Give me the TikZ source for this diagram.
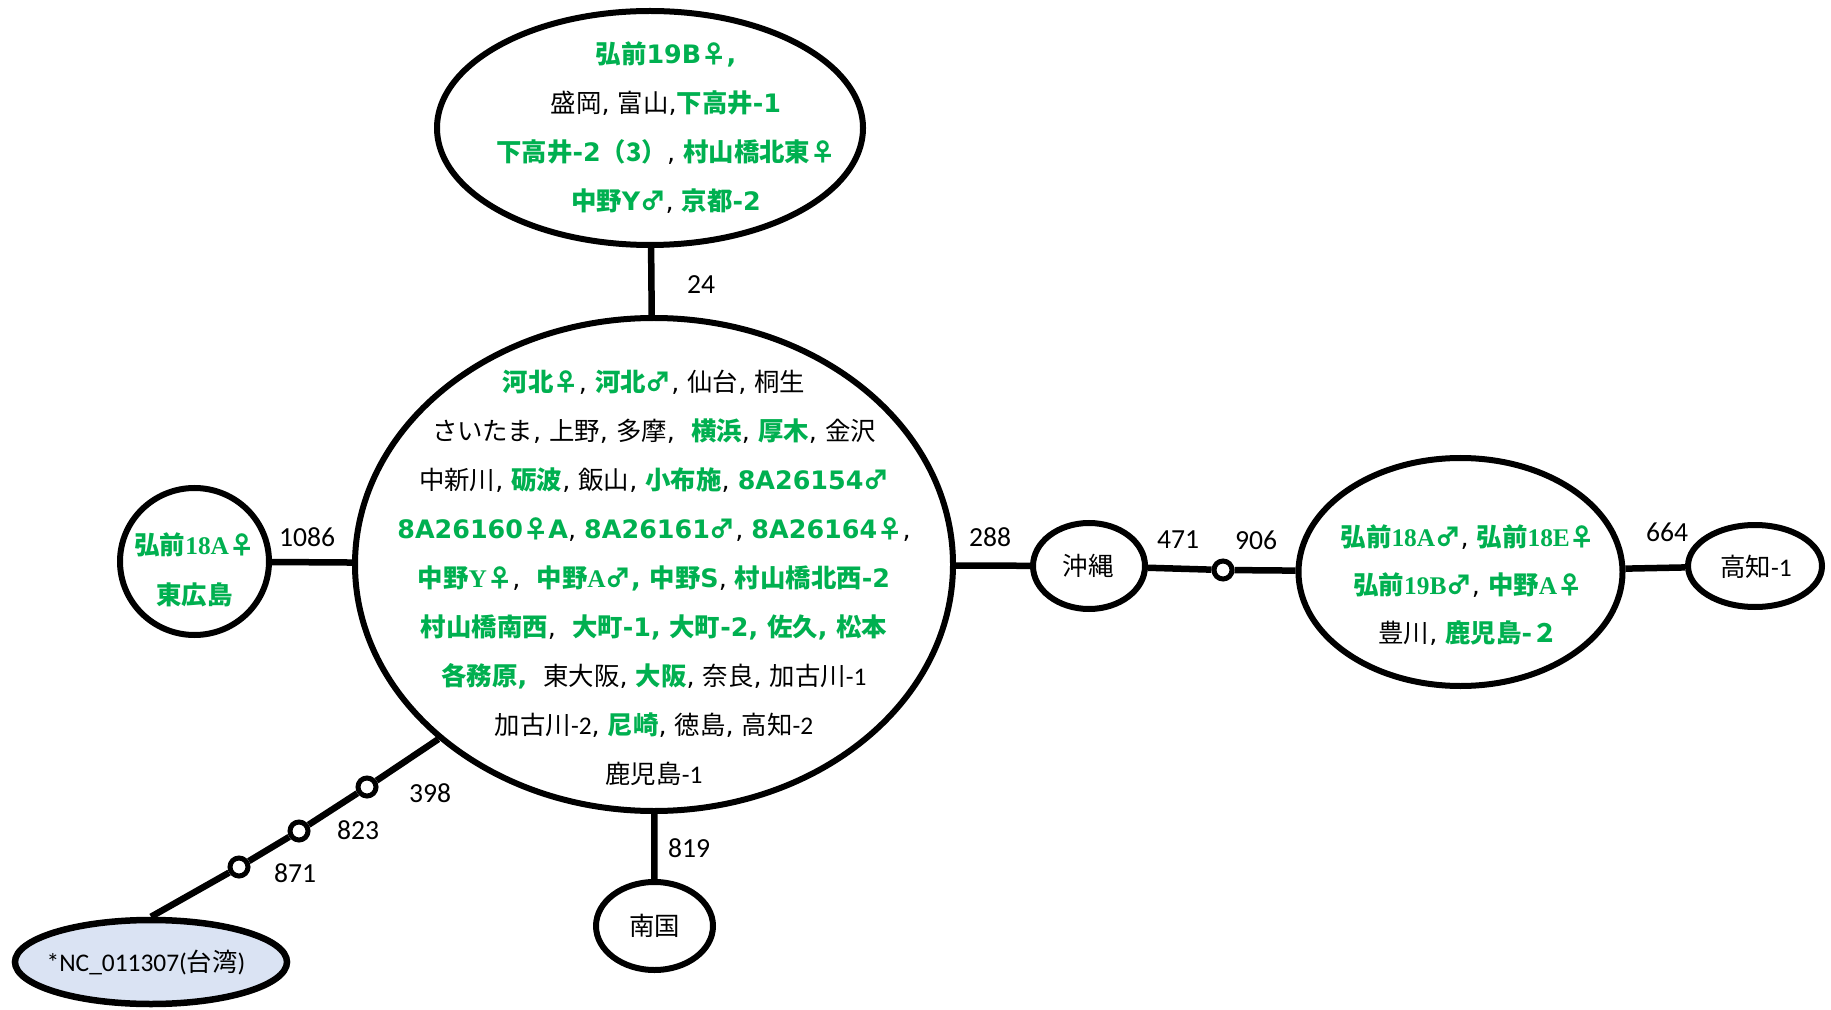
\documentclass[tikz,border=0pt]{standalone}
\usepackage{fontspec}
\usetikzlibrary{shapes.geometric}
\newfontfamily\fjp{Noto Sans CJK JP}
\newfontfamily\fvd{DejaVu Sans}
\newfontfamily\fsr{Liberation Serif}
\newfontfamily\fcl{Carlito}
\definecolor{grn}{HTML}{00B050}
\definecolor{twfill}{HTML}{DAE3F3}
\newcommand\gj[1]{{\color{grn}\fjp\bfseries #1}}
\newcommand\gv[1]{{\color{grn}\fvd\bfseries #1}}
\newcommand\gs[1]{{\color{grn}\fsr\bfseries #1}}
\newcommand\bj[1]{{\fjp #1}}
\newcommand\bv[1]{{\fvd #1}}
\newcommand\bc[1]{{\fcl #1}}
\tikzset{
  bord/.style={draw=black, line width=3pt, fill=white, ellipse, inner sep=0pt},
  mut/.style={circle, draw=black, line width=2.5pt, fill=white, minimum size=9pt, inner sep=0pt},
  conn/.style={line width=3.25pt},
  txt/.style={align=center, font=\fontsize{12.7}{24.5}\selectfont, inner sep=0pt},
  lab/.style={font=\fcl\fontsize{13.8}{16}\selectfont, inner sep=0pt},
}
\begin{document}
\begin{tikzpicture}[x=0.5pt,y=-0.5pt]
\useasboundingbox (0,0) rectangle (1831,1010);
% shapes
\node[bord, minimum width=213pt, minimum height=117pt] (top) at (650,128) {};
\node[bord, minimum width=299pt, minimum height=246.5pt] (c) at (654,564.5) {};
\node[bord, minimum width=74.5pt, minimum height=73.5pt] (lc) at (194.5,561.5) {};
\node[bord, minimum width=56pt, minimum height=43pt] (oki) at (1089,566) {};
\node[bord, minimum width=162pt, minimum height=114pt] (re) at (1460.5,572) {};
\node[bord, minimum width=67pt, minimum height=41pt] (kochi) at (1755,566) {};
\node[bord, minimum width=58.5pt, minimum height=44pt] (nan) at (654.5,926) {};
\node[bord, fill=twfill, line width=3.25pt, minimum width=136pt, minimum height=42pt] (tw) at (151,962) {};
\node[mut] (m1) at (367,787) {};
\node[mut] (m2) at (299,831) {};
\node[mut] (m3) at (239,867) {};
\node[mut] (m4) at (1223,570) {};
% connectors
\draw[conn] (top) -- (c);
\draw[conn] (lc) -- (c);
\draw[conn] (c) -- (oki);
\draw[conn] (oki) -- (m4) -- (re);
\draw[conn] (re) -- (kochi);
\draw[conn] (c) -- (nan);
\coordinate (cs) at (c.219.6);
\draw[conn] (cs) -- (m1) -- (m2) -- (m3) -- (tw.north);
% texts
\node[txt] (ttop) at (666,128) {%
\gj{弘前}\gv{19B}\gj{♀}\gv{,}\\
\bj{盛岡}\bv{, }\bj{富山}\bv{,}\gj{下高井}\gv{-1}\\
\gj{下高井}\gv{-2}\gj{（3）}\bv{, }\gj{村山橋北東♀}\\
\gj{中野}\gv{Y}\gj{♂}\bv{, }\gj{京都}\gv{-2}};
\node[txt] (tc) at (654,577.5) {%
\gj{河北♀}\bv{, }\gj{河北♂}\bv{, }\bj{仙台}\bv{, }\bj{桐生}\\
\bj{さいたま}\bv{, }\bj{上野}\bv{, }\bj{多摩}\bv{,\ \ }\gj{横浜}\bv{, }\gj{厚木}\bv{, }\bj{金沢}\\
\bj{中新川}\bv{, }\gj{砺波}\bv{, }\bj{飯山}\bv{, }\gj{小布施}\bv{, }\gv{8A26154}\gj{♂}\\
\gv{8A26160}\gj{♀}\gv{A}\bv{, }\gv{8A26161}\gj{♂}\bv{, }\gv{8A26164}\gj{♀}\bv{,}\\
\gj{中野}\gs{Y}\gj{♀}\bv{,\ \ }\gj{中野}\gs{A}\gj{♂}\gv{, }\gj{中野}\gv{S}\bv{, }\gj{村山橋北西}\gv{-2}\\
\gj{村山橋南西}\bv{,\ \ }\gj{大町}\gv{-1, }\gj{大町}\gv{-2, }\gj{佐久}\gv{, }\gj{松本}\\
\gj{各務原}\gv{,}\bv{\ \ }\bj{東大阪}\bv{, }\gj{大阪}\bv{, }\bj{奈良}\bv{, }\bj{加古川}\bc{-1}\\
\bj{加古川}\bc{-2}\bv{, }\gj{尼崎}\bv{, }\bj{徳島}\bv{, }\bj{高知}\bc{-2}\\
\bj{鹿児島}\bc{-1}};
\node[txt, font=\fontsize{12.7}{25}\selectfont] (tlc) at (194.5,570) {%
\gj{弘前}\gs{18A}\gj{♀}\\
\gj{東広島}};
\node[txt, font=\fontsize{12.7}{24}\selectfont] (tre) at (1468,585) {%
\gj{弘前}\gs{18A}\gj{♂}\bv{, }\gj{弘前}\gs{18E}\gj{♀}\\
\gj{弘前}\gs{19B}\gj{♂}\bv{, }\gj{中野}\gs{A}\gj{♀}\\
\bj{豊川}\bv{, }\gj{鹿児島}\gv{-}\gj{２}};
\node[txt] (toki) at (1088,566) {\bj{沖縄}};
\node[txt] (tnan) at (654.5,926) {\bj{南国}};
\node[txt] (tkochi) at (1756,567) {\bj{高知}\bc{-1}};
\node[txt] (ttw) at (146,963) {\bc{*NC\_011307(}\bj{台湾}\bc{)}};
% edge labels
\node[lab] (l24) at (701,285) {24};
\node[lab] (l1086) at (307,537) {1086};
\node[lab] (l288) at (990,537) {288};
\node[lab] (l471) at (1178,540) {471};
\node[lab] (l906) at (1256,540) {906};
\node[lab] (l664) at (1667,532) {664};
\node[lab] (l819) at (689,848) {819};
\node[lab] (l398) at (430,793) {398};
\node[lab] (l823) at (358,830) {823};
\node[lab] (l871) at (295,873) {871};
\end{tikzpicture}
\end{document}
